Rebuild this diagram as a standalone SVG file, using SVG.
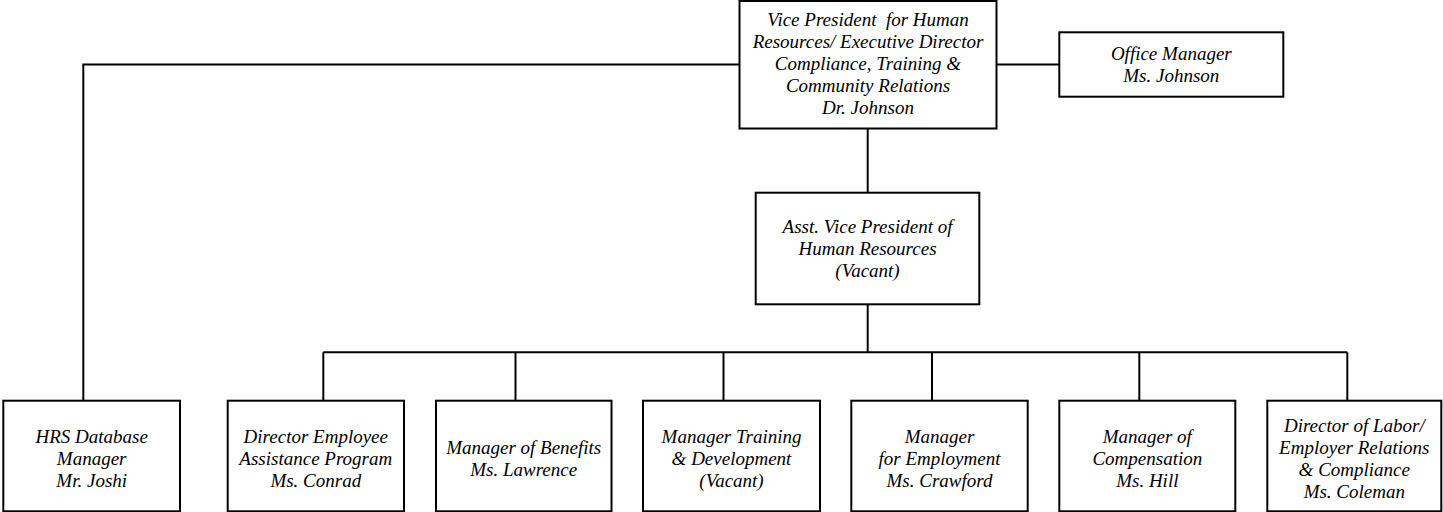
<svg xmlns="http://www.w3.org/2000/svg" width="1443" height="512" viewBox="0 0 1443 512">
<style>
.box{fill:#ffffff;stroke:#000000;stroke-width:2}
.con{fill:none;stroke:#000000;stroke-width:2}
.lbl{font-family:'Liberation Serif','Times New Roman',serif;font-style:italic;font-size:19px;fill:#000000;text-anchor:middle}
</style>
<rect x="0" y="0" width="1443" height="512" fill="#ffffff"/>
<g id="connectors" class="con">
<polyline points="739.5,64.5 83.3,64.5 83.3,400.7"/>
<line x1="996.5" y1="64.5" x2="1059.3" y2="64.5"/>
<line x1="867.7" y1="128.5" x2="867.7" y2="192.7"/>
<line x1="867.7" y1="304.3" x2="867.7" y2="352.3"/>
<line x1="323.3" y1="352.3" x2="1347.3" y2="352.3"/>
<line x1="323.3" y1="352.3" x2="323.3" y2="400.7"/>
<line x1="515.5" y1="352.3" x2="515.5" y2="400.7"/>
<line x1="723.5" y1="352.3" x2="723.5" y2="400.7"/>
<line x1="932" y1="352.3" x2="932" y2="400.7"/>
<line x1="1139.3" y1="352.3" x2="1139.3" y2="400.7"/>
<line x1="1347.3" y1="352.3" x2="1347.3" y2="400.7"/>
</g>
<g id="vp">
<rect class="box" x="739.5" y="1" width="257" height="127.5"/>
<text class="lbl" x="868" y="26" xml:space="preserve">Vice President  for Human</text>
<text class="lbl" x="868" y="48">Resources/ Executive Director</text>
<text class="lbl" x="868" y="70">Compliance, Training &amp;</text>
<text class="lbl" x="868" y="92">Community Relations</text>
<text class="lbl" x="868" y="114">Dr. Johnson</text>
</g>
<g id="office">
<rect class="box" x="1059.3" y="32.3" width="224" height="64.4"/>
<text class="lbl" x="1171.3" y="59.5">Office Manager</text>
<text class="lbl" x="1171.3" y="81.5">Ms. Johnson</text>
</g>
<g id="avp">
<rect class="box" x="755.7" y="192.7" width="223.6" height="111.6"/>
<text class="lbl" x="867.5" y="232.5">Asst. Vice President of</text>
<text class="lbl" x="867.5" y="254.5">Human Resources</text>
<text class="lbl" x="867.5" y="276.5">(Vacant)</text>
</g>
<g id="hrs">
<rect class="box" x="3.3" y="400.7" width="176.7" height="110.6"/>
<text class="lbl" x="91.7" y="442.5">HRS Database</text>
<text class="lbl" x="91.7" y="464.5">Manager</text>
<text class="lbl" x="91.7" y="486.5">Mr. Joshi</text>
</g>
<g id="eap">
<rect class="box" x="227.7" y="400.7" width="176.3" height="110.6"/>
<text class="lbl" x="315.8" y="442.5">Director Employee</text>
<text class="lbl" x="315.8" y="464.5">Assistance Program</text>
<text class="lbl" x="315.8" y="486.5">Ms. Conrad</text>
</g>
<g id="benefits">
<rect class="box" x="436" y="400.7" width="175.5" height="110.6"/>
<text class="lbl" x="523.7" y="453.5">Manager of Benefits</text>
<text class="lbl" x="523.7" y="475.5">Ms. Lawrence</text>
</g>
<g id="training">
<rect class="box" x="643" y="400.7" width="177" height="110.6"/>
<text class="lbl" x="731.5" y="442.5">Manager Training</text>
<text class="lbl" x="731.5" y="464.5">&amp; Development</text>
<text class="lbl" x="731.5" y="486.5">(Vacant)</text>
</g>
<g id="employment">
<rect class="box" x="851.3" y="400.7" width="176.4" height="110.6"/>
<text class="lbl" x="939.5" y="442.5">Manager</text>
<text class="lbl" x="939.5" y="464.5">for Employment</text>
<text class="lbl" x="939.5" y="486.5">Ms. Crawford</text>
</g>
<g id="compensation">
<rect class="box" x="1059.3" y="400.7" width="176" height="110.6"/>
<text class="lbl" x="1147.3" y="442.5">Manager of</text>
<text class="lbl" x="1147.3" y="464.5">Compensation</text>
<text class="lbl" x="1147.3" y="486.5">Ms. Hill</text>
</g>
<g id="labor">
<rect class="box" x="1267.3" y="400.7" width="174" height="110.6"/>
<text class="lbl" x="1354.3" y="431.5">Director of Labor/</text>
<text class="lbl" x="1354.3" y="453.5">Employer Relations</text>
<text class="lbl" x="1354.3" y="475.5">&amp; Compliance</text>
<text class="lbl" x="1354.3" y="497.5">Ms. Coleman</text>
</g>
</svg>
